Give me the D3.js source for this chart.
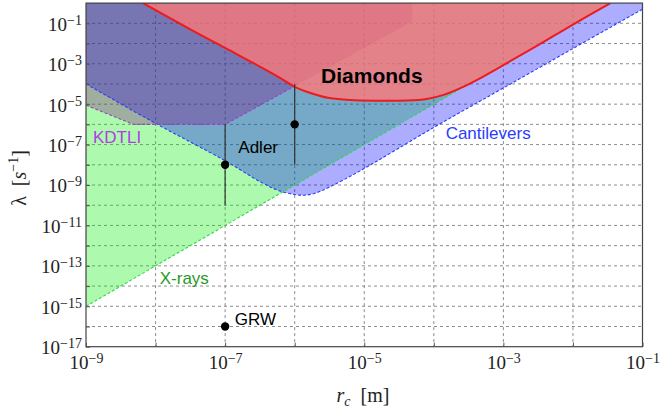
<!DOCTYPE html>
<html>
<head>
<meta charset="utf-8">
<script src="https://cdn.jsdelivr.net/npm/d3@7"></script>
<style>
  body { margin: 0; background: #fff; }
  svg { display: block; }
  .grid line { stroke: #8c8c8c; stroke-dasharray: 3,3; }
  .lbl { font-family: "Liberation Sans", Arial, sans-serif; }
  .axis text { font-family: "Liberation Serif", "Times New Roman", serif; font-size: 19px; fill: #222; }
  .axis line { stroke: #555; }
</style>
</head>
<body>
<svg id="chart" width="661" height="412"></svg>
<script>
'use strict';

// all values are log10 exponents
var rcDecades       = [-9, -8, -7, -6, -5, -4, -3, -2, -1];
var lambdaDecades   = [-17, -16, -15, -14, -13, -12, -11, -10, -9, -8, -7, -6, -5, -4, -3, -2, -1, 0];
var rcTickLabels     = [-9, -7, -5, -3, -1];
var lambdaTickLabels = [-17, -15, -13, -11, -9, -7, -5, -3, -1];

// Diamonds bound (red)
var diamondsRc     = [-8.18, -7.5, -7.0, -6.5, -6.2, -6.0, -5.75, -5.5, -5.2, -4.8, -4.4, -4.1, -3.86, -3.57, -3.33, -2.95, -2.5, -2.0, -1.46];
var diamondsLambda = [0.0, -1.3, -2.22, -3.14, -3.72, -4.14, -4.47, -4.7, -4.8, -4.83, -4.82, -4.74, -4.54, -4.13, -3.71, -2.97, -2.08, -1.06, 0.0];

// Cantilevers bound (blue)
var cantileverRc     = [-9, -8, -7, -6.5, -6.25, -6.0, -5.85, -5.7, -5.5, -5.06, -4, -3, -2, -1];
var cantileverLambda = [-4.0, -5.95, -7.8, -8.83, -9.25, -9.47, -9.5, -9.4, -9.1, -8.3, -6.15, -4.2, -2.25, -0.3];

// X-rays bound (green)
var xrayRc     = [-9, -1.5];
var xrayLambda = [-15, 0];

// KDTLI bound (purple)
var kdtliRc     = [-9, -8.32, -7, -4.31];
var kdtliLambda = [-5.05, -6, -6, -0.91];

// Adler values and ranges, GRW value
var adlerRc      = [-7, -6];
var adlerLambda  = [-8, -6];
var adlerLow     = [-10, -8];
var adlerHigh    = [-6, -4];
var grwRc        = [-7];
var grwLambda    = [-16];

// region labels, anchored in data space
var labelText   = ["Diamonds", "Adler", "KDTLI", "Cantilevers", "X-rays", "GRW"];
var labelRc     = [-5.62, -6.81, -8.9, -3.83, -7.94, -6.86];
var labelLambda = [-3.96, -7.43, -6.9, -6.73, -13.9, -15.93];

var p = function (e) { return Math.pow(10, e); };
var pairs = function (xs, ys) { return xs.map(function (v, i) { return [p(v), p(ys[i])]; }); };

var padL = 86, padR = 642.5, padT = 3.1, padB = 346.7;
var svg = d3.select("#chart");

var x = d3.scaleLog().domain([1e-9, 1e-1]).range([padL, padR]);
var y = d3.scaleLog().domain([1e-17, 1]).range([padB, padT]);

var smooth = d3.line().x(function (d) { return x(d[0]); }).y(function (d) { return y(d[1]); }).curve(d3.curveCatmullRom.alpha(0.5));
var straight = d3.line().x(function (d) { return x(d[0]); }).y(function (d) { return y(d[1]); });

var diamonds   = pairs(diamondsRc, diamondsLambda);
var cantilever = pairs(cantileverRc, cantileverLambda);
var xray       = pairs(xrayRc, xrayLambda);
var kdtli      = pairs(kdtliRc, kdtliLambda);

var xMin = x.domain()[0], xMax = x.domain()[1], yMin = y.domain()[0], yMax = y.domain()[1];
var pt = function (a, b) { return "L" + x(a) + "," + y(b); };

var defs = svg.append("defs");
defs.append("clipPath").attr("id", "plotClip")
  .append("rect").attr("x", padL).attr("y", padT).attr("width", padR - padL).attr("height", padB - padT);
// everything below the diamonds curve
defs.append("clipPath").attr("id", "belowRed")
  .append("path")
  .attr("d", smooth(diamonds) + pt(xMax, yMax) + pt(xMax, yMin) + pt(xMin, yMin) + pt(xMin, yMax) + "Z");

// grid
var grid = svg.append("g").attr("class", "grid");
grid.selectAll(".gx").data(rcDecades.slice(1, -1)).enter().append("line")
  .attr("x1", function (d) { return x(p(d)); }).attr("x2", function (d) { return x(p(d)); })
  .attr("y1", padT).attr("y2", padB);
grid.selectAll(".gy").data(lambdaDecades.slice(1, -1)).enter().append("line")
  .attr("y1", function (d) { return y(p(d)); }).attr("y2", function (d) { return y(p(d)); })
  .attr("x1", padL).attr("x2", padR);

var plot = svg.append("g").attr("clip-path", "url(#plotClip)");
var under = plot.append("g").attr("clip-path", "url(#belowRed)");

// X-rays region
under.append("path")
  .attr("d", straight(xray) + pt(xray[0][0], yMax) + "Z")
  .attr("fill", "rgb(0,235,0)").attr("fill-opacity", 0.32);
// Cantilevers region
under.append("path")
  .attr("d", smooth(cantilever) + pt(xMax, yMax) + pt(xMin, yMax) + "Z")
  .attr("fill", "rgb(0,0,255)").attr("fill-opacity", 0.32);
// KDTLI region
plot.append("path")
  .attr("d", straight(kdtli) + pt(kdtli[kdtli.length - 1][0], yMax) + pt(xMin, yMax) + "Z")
  .attr("fill", "rgb(128,0,128)").attr("fill-opacity", 0.3);
// Diamonds region
plot.append("path")
  .attr("d", smooth(diamonds) + "Z")
  .attr("fill", "rgb(223,108,117)").attr("fill-opacity", 0.85);

// dashed bounds
var dashed = plot.append("g").attr("clip-path", "url(#belowRed)").attr("fill", "none").attr("stroke-width", 1.1).attr("stroke-dasharray", "3,2");
dashed.append("path").attr("d", straight(xray)).attr("stroke", "#2fd84a");
dashed.append("path").attr("d", smooth(cantilever)).attr("stroke", "#2a3cff");
dashed.append("path").attr("d", straight(kdtli)).attr("stroke", "#9a40c8");

plot.append("path").attr("d", smooth(diamonds))
  .attr("fill", "none").attr("stroke", "#ee1b1b").attr("stroke-width", 2);

// Adler ranges and points
var adler = adlerRc.map(function (v, i) { return { rc: p(v), lam: p(adlerLambda[i]), lo: p(adlerLow[i]), hi: p(adlerHigh[i]) }; });
plot.selectAll(".bar").data(adler).enter().append("line")
  .attr("x1", function (d) { return x(d.rc); }).attr("x2", function (d) { return x(d.rc); })
  .attr("y1", function (d) { return y(d.lo); }).attr("y2", function (d) { return y(d.hi); })
  .attr("stroke", "#333").attr("stroke-width", 1.2);
var points = adler.concat(pairs(grwRc, grwLambda).map(function (d) { return { rc: d[0], lam: d[1] }; }));
plot.selectAll(".dot").data(points).enter().append("circle")
  .attr("cx", function (d) { return x(d.rc); }).attr("cy", function (d) { return y(d.lam); })
  .attr("r", 4.2).attr("fill", "#000");

// labels
var labelSize  = [21, 17, 17, 17, 17, 17];
var labelColor = ["#000", "#000", "#b43ce6", "#2a3cff", "#1f9a2a", "#000"];
svg.append("g").selectAll("text").data(labelText).enter().append("text")
  .attr("class", "lbl")
  .attr("x", function (d, i) { return x(p(labelRc[i])); })
  .attr("y", function (d, i) { return y(p(labelLambda[i])); })
  .attr("font-size", function (d, i) { return labelSize[i] + "px"; })
  .attr("font-weight", function (d, i) { return i === 0 ? "bold" : "normal"; })
  .attr("fill", function (d, i) { return labelColor[i]; })
  .text(function (d) { return d; });

// frame
svg.append("rect").attr("x", padL).attr("y", padT).attr("width", padR - padL).attr("height", padB - padT)
  .attr("fill", "none").attr("stroke", "#444").attr("stroke-width", 1.2);

// axes
var power = function (list) {
  return function (d) {
    var e = Math.round(Math.log10(d));
    var t = d3.select(this);
    t.text(null);
    if (list.indexOf(e) < 0) return;
    t.append("tspan").text("10");
    t.append("tspan").attr("dy", "-0.42em").attr("font-size", "14px").text("\u2212" + Math.abs(e));
  };
};

var gx = svg.append("g").attr("class", "axis").attr("transform", "translate(0," + padB + ")")
  .call(d3.axisBottom(x).tickValues(rcDecades.map(p)).tickSize(-4).tickPadding(9));
gx.select(".domain").remove();
gx.selectAll(".tick text").each(power(rcTickLabels));

var gy = svg.append("g").attr("class", "axis").attr("transform", "translate(" + padL + ",0)")
  .call(d3.axisLeft(y).tickValues(lambdaDecades.map(p)).tickSize(-4).tickPadding(4));
gy.select(".domain").remove();
gy.selectAll(".tick text").attr("dy", "0.36em").each(power(lambdaTickLabels));

// axis titles
var serif = '"Liberation Serif", "Times New Roman", serif';
var yt = svg.append("text").attr("transform", "translate(26,178) rotate(-90)")
  .attr("text-anchor", "middle").attr("font-family", serif).attr("font-size", "20px").attr("fill", "#222");
yt.append("tspan").text("\u03bb\u00a0\u00a0[");
yt.append("tspan").attr("font-style", "italic").text("s");
yt.append("tspan").attr("dy", -8).attr("font-size", "14px").text("\u22121");
yt.append("tspan").attr("dy", 8).text("]");

var xt = svg.append("text").attr("x", 363).attr("y", 401.5)
  .attr("text-anchor", "middle").attr("font-family", serif).attr("font-size", "20px").attr("fill", "#222");
xt.append("tspan").attr("font-style", "italic").text("r");
xt.append("tspan").attr("dy", 4).attr("font-size", "14px").attr("font-style", "italic").text("c");
xt.append("tspan").attr("dy", -4).text("\u00a0\u00a0[m]");
</script>
</body>
</html>
